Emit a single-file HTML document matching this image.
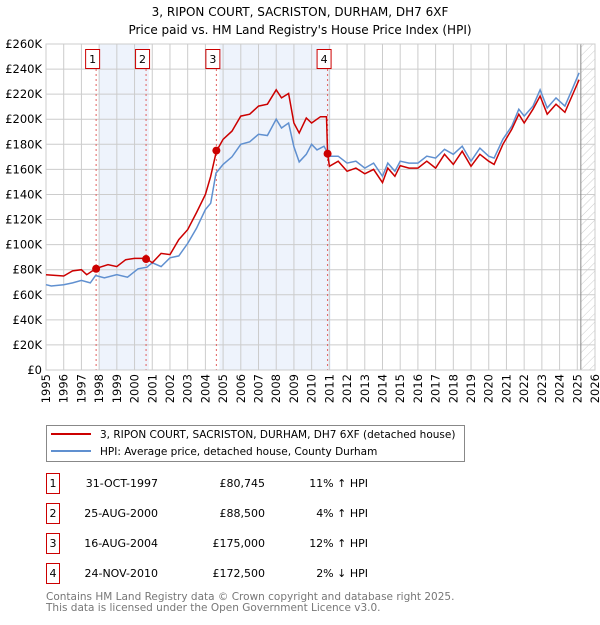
<!DOCTYPE html>
<html><head><meta charset="utf-8"><style>
body{margin:0;background:#fff;font-family:"Liberation Sans","DejaVu Sans",sans-serif;}
svg text{font-family:"DejaVu Sans","Liberation Sans",sans-serif;}
</style></head><body>
<svg id="chart" width="600" height="620" xmlns="http://www.w3.org/2000/svg">
<defs><pattern id="hatch" width="6" height="6" patternUnits="userSpaceOnUse" patternTransform="rotate(45)"><line x1="0" y1="0" x2="0" y2="6" stroke="#ccc" stroke-width="1"/></pattern></defs>
<text x="300" y="16" text-anchor="middle" font-size="12">3, RIPON COURT, SACRISTON, DURHAM, DH7 6XF</text>
<text x="300" y="34" text-anchor="middle" font-size="12">Price paid vs. HM Land Registry's House Price Index (HPI)</text>
<g id="plot"></g>
<g>
<rect x="46.5" y="425.5" width="418" height="36" fill="#fff" stroke="#888"/>
<line x1="51" y1="434" x2="91" y2="434" stroke="#cc0000" stroke-width="2"/>
<text x="100" y="438" font-size="10.5">3, RIPON COURT, SACRISTON, DURHAM, DH7 6XF (detached house)</text>
<line x1="51" y1="451" x2="91" y2="451" stroke="#6090d0" stroke-width="2"/>
<text x="100" y="455" font-size="10.5">HPI: Average price, detached house, County Durham</text>
</g>
<g id="table"></g>
<text x="46" y="600" font-size="10.5" fill="#777">Contains HM Land Registry data © Crown copyright and database right 2025.</text>
<text x="46" y="611" font-size="10.5" fill="#777">This data is licensed under the Open Government Licence v3.0.</text>
</svg>
<script>
const yTicks=[0,20,40,60,80,100,120,140,160,180,200,220,240,260];
const years=[1995,1996,1997,1998,1999,2000,2001,2002,2003,2004,2005,2006,2007,2008,2009,2010,2011,2012,2013,2014,2015,2016,2017,2018,2019,2020,2021,2022,2023,2024,2025,2026];
const hpiT=[1995,1995.3,1996,1996.5,1997,1997.5,1997.8,1998.3,1999,1999.6,2000.2,2000.7,2001,2001.5,2002,2002.5,2003,2003.5,2004,2004.3,2004.6,2005,2005.5,2006,2006.5,2007,2007.5,2008,2008.3,2008.7,2009,2009.3,2009.7,2010,2010.3,2010.7,2011,2011.5,2012,2012.5,2013,2013.5,2014,2014.3,2014.7,2015,2015.5,2016,2016.5,2017,2017.5,2018,2018.5,2019,2019.5,2020,2020.3,2020.8,2021.3,2021.7,2022,2022.5,2022.9,2023.3,2023.8,2024.3,2024.7,2025.1];
const hpiV=[68,67,68,69.5,71.5,69.5,75.4,73.5,76,74,80.7,82,85.5,82.5,89.5,91,101,113,128,133,157,164,170,180,182,188,187,200,193,197,178,166,172,180,175.5,178.5,170.5,170.5,165,166.5,161,165,154.5,165,158.5,166.5,165,165,170.5,169,176,172,178.5,166.5,177,170.5,169,184,194.5,208,202.5,210.5,223.5,209,217,210.5,223.5,237];
const priceT=[1995,1996,1996.5,1997,1997.3,1997.83,1998.5,1999,1999.5,2000,2000.65,2001,2001.5,2002,2002.5,2003,2003.5,2004,2004.3,2004.62,2005,2005.5,2006,2006.5,2007,2007.5,2008,2008.3,2008.7,2009,2009.3,2009.7,2010,2010.5,2010.84,2010.9,2011,2011.5,2012,2012.5,2013,2013.5,2014,2014.3,2014.7,2015,2015.5,2016,2016.5,2017,2017.5,2018,2018.5,2019,2019.5,2020,2020.3,2020.8,2021.3,2021.7,2022,2022.5,2022.9,2023.3,2023.8,2024.3,2024.7,2025.1];
const priceV=[76,75,79,80,76,81,84,82.5,88,89,89,85.5,93,92,104,112,125.5,140,154.5,174.5,184,190.5,202.5,204,210.5,212,223.5,217,220.5,197,189,201,197,202,202,172.5,162.5,166.5,158.5,161,156.5,160,149.5,161,154.5,163,161,161,166.5,161,172,164,174.5,162.5,172,166.5,164,180,192,204,197,208,218.5,204,212,205.5,218.5,231.5];
const saleLabels=["1","2","3","4"];
const saleT=[1997.83,2000.65,2004.62,2010.9];
const saleV=[80.745,88.5,175,172.5];
const saleDates=["31-OCT-1997","25-AUG-2000","16-AUG-2004","24-NOV-2010"];
const salePrices=["£80,745","£88,500","£175,000","£172,500"];
const saleDiff=["11% ↑ HPI","4% ↑ HPI","12% ↑ HPI","2% ↓ HPI"];

const NS="http://www.w3.org/2000/svg";
const X0=46,X1=595,Y0=370,Y1=44;
const xs=t=>X0+(t-1995)/(2026-1995)*(X1-X0);
const ys=v=>Y0-v/260*(Y0-Y1);
const plot=document.getElementById('plot');
function mk(tag,attrs,parent){const e=document.createElementNS(NS,tag);for(const k in attrs)e.setAttribute(k,attrs[k]);(parent||plot).appendChild(e);return e;}
for(const [a,b] of [[0,1],[2,3]]){
 const r=mk('rect',{x:xs(saleT[a])+3,y:Y1,width:xs(saleT[b])-xs(saleT[a]),height:Y0-Y1,fill:'#eef3fc'});
 
 
}
const hx=xs(2025.2);
const h=mk('rect',{x:hx,y:Y1,width:X1-hx,height:Y0-Y1,fill:'url(#hatch)'});


yTicks.forEach(v=>{
 const l=mk('line',{x1:X0,x2:X1,y1:ys(v),y2:ys(v),stroke:'#ccc'});
 
 
 const t=mk('text',{x:X0-4,y:ys(v)+4,'text-anchor':'end','font-size':'11.5'});
 t.textContent='£'+(v===0?'0':v+'K');
 
 
});
years.forEach(y=>{
 const l=mk('line',{x1:xs(y),x2:xs(y),y1:Y1,y2:Y0,stroke:'#ccc'});
 
 
 const t=mk('text',{x:0,y:0,'font-size':'11.5','text-anchor':'end',transform:`translate(${xs(y)+4},${Y0+4}) rotate(-90)`});
 t.textContent=y;
 
 
});
const hl=mk('line',{x1:hx,x2:hx,y1:Y1,y2:Y0,stroke:'#888'});


saleT.forEach((t,i)=>{
 const l=mk('line',{x1:xs(t),x2:xs(t),y1:Y1+25,y2:Y0,stroke:'#e06060','stroke-dasharray':'2,3'});
 
 
 const r=mk('rect',{x:xs(t)-10.5,y:49.5,width:14,height:19,fill:'#fff',stroke:'#cc0000'});
 
 
 const tx=mk('text',{x:xs(t)-3.5,y:63,'text-anchor':'middle','font-size':'11'});
 tx.textContent=saleLabels[i];
 
 
});
const frame=mk('rect',{x:X0,y:Y1,width:X1-X0,height:Y0-Y1,fill:'none',stroke:'#ccc'});


function line(T,V,c,name){
 const p=mk('path',{d:T.map((t,i)=>(i?'L':'M')+xs(t).toFixed(1)+','+ys(V[i]).toFixed(1)).join(''),fill:'none',stroke:c,'stroke-width':'1.5'});
 
 
}
line(hpiT,hpiV,'#6090d0','hpi-line');
line(priceT,priceV,'#cc0000','price-line');
saleT.forEach((t,i)=>{
 const c=mk('circle',{cx:xs(t),cy:ys(saleV[i]),r:4,fill:'#cc0000'});
 
 
});
const tb=document.getElementById('table');
saleLabels.forEach((s,i)=>{
 const y=483+i*30;
 const r=mk('rect',{x:46.5,y:y-9.5,width:13,height:20,fill:'#fff',stroke:'#cc0000'},tb);
 
 
 const cells=[[53,s,'middle'],[158,saleDates[i],'end'],[265,salePrices[i],'end'],[368,saleDiff[i],'end']];
 cells.forEach(([x,txt,a])=>{
  const t=mk('text',{x:x,y:y+4,'text-anchor':a,'font-size':'11'},tb);
  t.textContent=txt;
  
  
 });
});
</script>
</body></html>
